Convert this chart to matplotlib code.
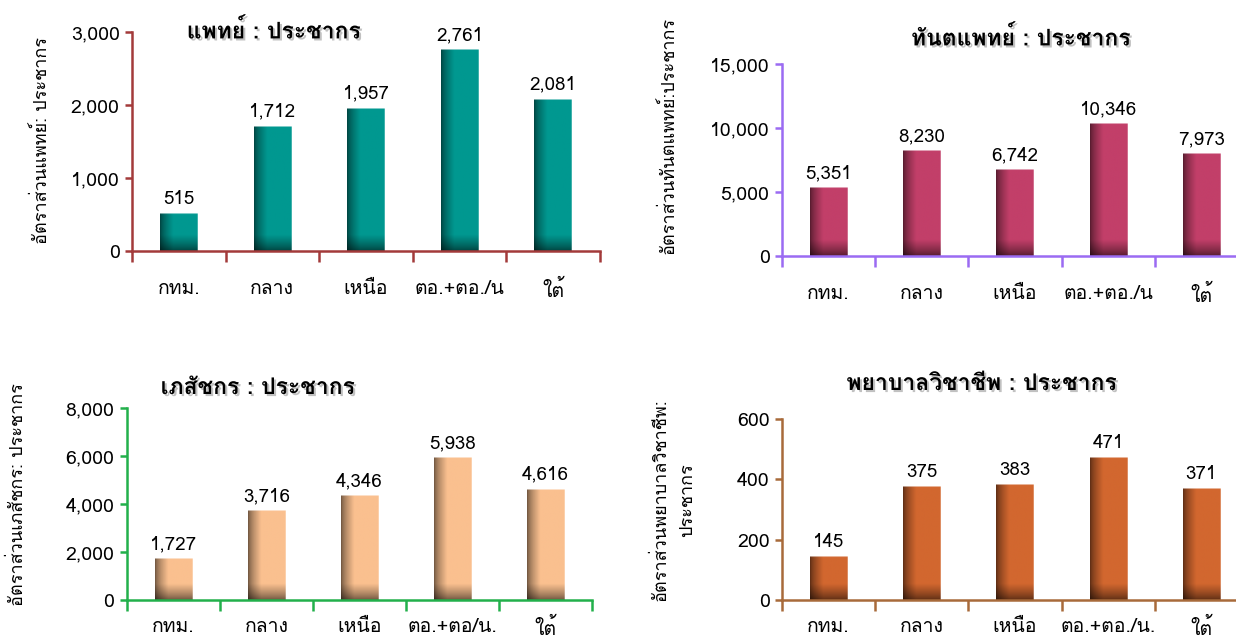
import numpy as np
import matplotlib
matplotlib.use('Agg')
import matplotlib.pyplot as plt
import matplotlib.patheffects as pe
from matplotlib import font_manager as fm
from matplotlib.ft2font import FT2Font
from matplotlib.colors import to_rgb

# -- data --
regions_top = ['กทม.', 'กลาง', 'เหนือ', 'ตอ.+ตอ./น', 'ใต้']
regions_bl = ['กทม.', 'กลาง', 'เหนือ', 'ตอ.+ตอ/น.', 'ใต้']
regions_br = ['กทม.', 'กลาง', 'เหนือ', 'ตอ.+ตอ./น.', 'ใต้']

doctor = [515, 1712, 1957, 2761, 2081]
dentist = [5351, 8230, 6742, 10346, 7973]
pharmacist = [1727, 3716, 4346, 5938, 4616]
nurse = [145, 375, 383, 471, 371]

# find something that can draw Thai
thai_font = None
for f in fm.fontManager.ttflist:
    try:
        if 0x0E01 in FT2Font(f.fname).get_charmap():
            thai_font = f.name
            break
    except Exception:
        pass
fams = ([thai_font] if thai_font else []) + ['DejaVu Sans']
plt.rcParams['font.family'] = fams

W, H = 1236, 644
fig = plt.figure(figsize=(W / 100, H / 100), dpi=100)


def px_rect(x0, x1, ytop, ybot):
    return [x0 / W, 1 - ybot / H, (x1 - x0) / W, (ybot - ytop) / H]


def shaded_bars(ax, vals, color, ymax, ax_px_h):
    bars = ax.bar(range(len(vals)), vals, width=0.4, color=color, zorder=2)
    base = np.array(to_rgb(color))
    nx = 60
    xx = np.linspace(0, 1, nx)
    hx = 0.45 + 0.55 * np.clip(xx / 0.35, 0, 1) ** 0.7
    for b in bars:
        x0, w, h = b.get_x(), b.get_width(), b.get_height()
        bar_px = h / ymax * ax_px_h
        ny = max(int(bar_px), 2)
        yy = np.linspace(0, bar_px, ny)  # pixels from the bottom
        vy = 0.45 + 0.55 * np.clip(yy / 16, 0, 1) ** 0.8
        fac = np.outer(vy, hx)
        img = np.clip(base[None, None, :] * fac[:, :, None], 0, 1)
        # thin light rim on top and right
        img[-1, :, :] = 0.5 * img[-1, :, :] + 0.5
        img[:, -1, :] = 0.6 * img[:, -1, :] + 0.4
        ax.imshow(img, extent=(x0, x0 + w, 0, h), origin='lower',
                  aspect='auto', zorder=2.5, interpolation='bilinear')
        b.set_visible(False)
    return bars


panels = [
    dict(px=(132, 600, 32, 251), vals=doctor, labels=regions_top,
         color='#009890', spine='#A33A3A', ymax=3000, step=1000,
         title='แพทย์ : ประชากร', tpos=(274, 30), xpad=21,
         ylab='อัตราส่วนแพทย์: ประชากร', ypos=(42, 140)),
    dict(px=(782, 1248, 64, 256), vals=dentist, labels=regions_top,
         color='#C23F69', spine='#9B6BF2', ymax=15000, step=5000,
         title='ทันตแพทย์ : ประชากร', tpos=(1021, 37), xpad=21,
         ylab='อัตราส่วนทันตแพทย์:ประชากร', ypos=(668, 135)),
    dict(px=(127, 592, 408, 600), vals=pharmacist, labels=regions_bl,
         color='#FAC08F', spine='#22B04B', ymax=8000, step=2000,
         title='เภสัชกร : ประชากร', tpos=(258, 388), xpad=13,
         ylab='อัตราส่วนเภสัชกร: ประชากร', ypos=(18, 495)),
    dict(px=(782, 1248, 419, 600), vals=nurse, labels=regions_br,
         color='#D2672F', spine='#A86A3A', ymax=600, step=200,
         title='พยาบาลวิชาชีพ : ประชากร', tpos=(982, 384), xpad=13,
         ylab='อัตราส่วนพยาบาลวิชาชีพ:\nประชากร', ypos=(674, 500)),
]

for p in panels:
    x0, x1, yt, yb = p['px']
    ax = fig.add_axes(px_rect(x0, x1, yt, yb))
    n = len(p['vals'])
    shaded_bars(ax, p['vals'], p['color'], p['ymax'], yb - yt)
    ax.set_xlim(-0.5, n - 0.5)
    ax.set_ylim(0, p['ymax'])
    ax.set_yticks(np.arange(0, p['ymax'] + 1, p['step']))
    ax.set_yticklabels([f'{int(v):,}' for v in ax.get_yticks()])
    ax.set_xticks(range(n))
    ax.set_xticklabels(p['labels'])
    ax.set_xticks(np.arange(-0.5, n), minor=True)
    ax.tick_params(axis='x', which='major', length=0, pad=p['xpad'],
                   labelsize=14)
    ax.tick_params(axis='x', which='minor', length=8, width=1.8,
                   color=p['spine'])
    ax.tick_params(axis='y', length=5, width=1.8, color=p['spine'],
                   labelsize=14, pad=4)
    for s in ['top', 'right']:
        ax.spines[s].set_visible(False)
    for s in ['left', 'bottom']:
        ax.spines[s].set_color(p['spine'])
        ax.spines[s].set_linewidth(1.8)
    ax.set_facecolor('none')
    for i, v in enumerate(p['vals']):
        ax.annotate(f'{v:,}', (i, v), xytext=(0, 4), textcoords='offset points',
                    ha='center', va='bottom', fontsize=13.5)
    tx, ty = p['tpos']
    fig.text(tx / W, 1 - ty / H, p['title'], ha='center', va='center',
             fontsize=16.5, fontweight='bold',
             path_effects=[pe.withSimplePatchShadow(offset=(1.5, -1.5),
                                                    shadow_rgbFace='#999999',
                                                    alpha=0.6)])
    yx, yy = p['ypos']
    fig.text(yx / W, 1 - yy / H, p['ylab'], rotation=90, ha='center',
             va='center', fontsize=13, linespacing=1.6)

fig.savefig('out.png', dpi=100)
